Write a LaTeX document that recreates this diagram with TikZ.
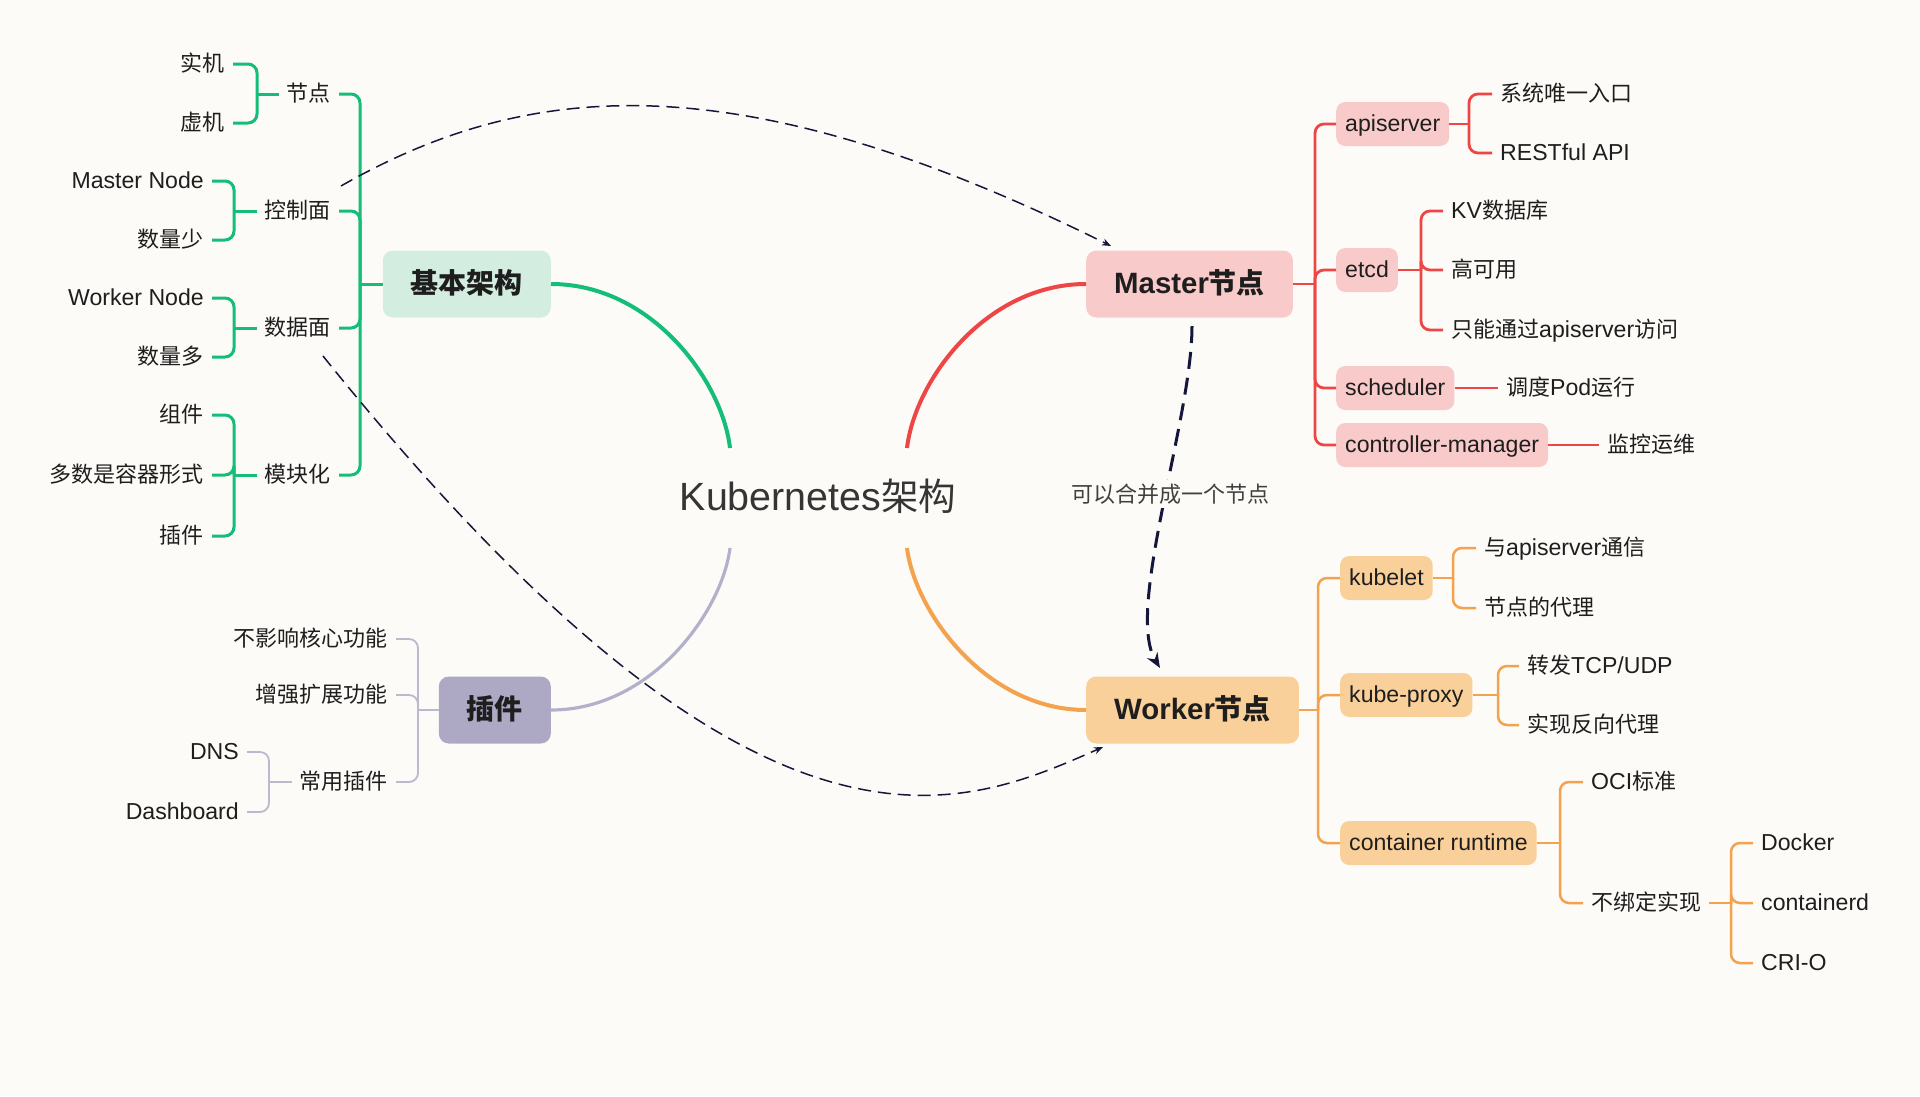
\documentclass[tikz,border=0pt]{standalone}
\usepackage{fontspec}
\setmainfont{Noto Sans CJK SC}
\newfontfamily\latfont{Liberation Sans}[Scale=1.05]
\newcommand{\La}[1]{{\latfont #1}}
\usetikzlibrary{arrows.meta}
\definecolor{bgc}{HTML}{FCFBF7}
\definecolor{gline}{HTML}{14BE78}
\definecolor{gfill}{HTML}{D3EEE1}
\definecolor{rline}{HTML}{EE4545}
\definecolor{rfill}{HTML}{F9CACA}
\definecolor{oline}{HTML}{F3A34D}
\definecolor{ofill}{HTML}{FAD09A}
\definecolor{pline}{HTML}{B3B0CC}
\definecolor{pbr}{HTML}{BCB9CF}
\definecolor{pfill}{HTML}{ADA9C4}
\definecolor{navy}{HTML}{15173A}
\definecolor{txt}{HTML}{1E1E1E}
\begin{document}
\begin{tikzpicture}[x=1pt,y=-1pt,
  leaf/.style={inner xsep=8pt, inner ysep=0pt, text height=19pt, text depth=4pt,
    font=\fontsize{22}{26}\selectfont, text=txt},
  mainbox/.style={rounded corners=10pt, minimum height=67pt, inner xsep=28pt,
    text height=24pt, text depth=5pt, font=\fontsize{28}{32}\selectfont\bfseries, text=txt},
  subbox/.style={rounded corners=9pt, minimum height=44pt, inner xsep=9pt,
    text height=19pt, text depth=4pt, font=\fontsize{22}{26}\selectfont, text=txt},
  gbr/.style={draw=gline, line width=3pt, rounded corners=9pt},
  rbr/.style={draw=rline, line width=2.8pt, rounded corners=9pt},
  obr/.style={draw=oline, line width=2.5pt, rounded corners=9pt},
  pbrs/.style={draw=pbr, line width=1.8pt, rounded corners=9pt},
  rel/.style={draw=navy, line width=1.5pt, dash pattern=on 13pt off 7pt,
    -{Stealth[length=9pt,width=7pt]}},
  relbig/.style={draw=navy, line width=3pt, dash pattern=on 17pt off 9pt,
    -{Stealth[length=15pt,width=12pt]}}
]
\fill[bgc] (0,0) rectangle (1920,1096);
\useasboundingbox (0,0) rectangle (1920,1096);

% ---------- center ----------
\node[text=txt!90!white, font=\fontsize{37.5}{42}\selectfont, inner sep=0pt] (k) at (818,496) {\La{Kubernetes}架构};
\coordinate (kNW) at (730,448);
\coordinate (kNE) at (907,448);
\coordinate (kSW) at (730,548);
\coordinate (kSE) at (907,548);

% ---------- green: 基本架构 ----------
\node[mainbox, fill=gfill, anchor=east] (jb) at (551,284) {基本架构};
\node[leaf, anchor=east] (n1) at (339,94) {节点};
\node[leaf, anchor=east] (n2) at (339,211) {控制面};
\node[leaf, anchor=east] (n3) at (339,328) {数据面};
\node[leaf, anchor=east] (n4) at (339,475) {模块化};
\node[leaf, anchor=east] (n11) at (233,64) {实机};
\node[leaf, anchor=east] (n12) at (233,123) {虚机};
\node[leaf, anchor=east] (n21) at (212,181) {\La{Master Node}};
\node[leaf, anchor=east] (n22) at (212,240) {数量少};
\node[leaf, anchor=east] (n31) at (212,298) {\La{Worker Node}};
\node[leaf, anchor=east] (n32) at (212,357) {数量多};
\node[leaf, anchor=east] (n41) at (212,415) {组件};
\node[leaf, anchor=east] (n42) at (212,475) {多数是容器形式};
\node[leaf, anchor=east] (n43) at (212,536) {插件};
\coordinate (gj) at (360,284);
\coordinate (g1) at (257,94);
\coordinate (g2) at (234,211);
\coordinate (g3) at (234,328);
\coordinate (g4) at (234,475);
\draw[gbr] (jb.west) -- (gj);
\foreach \c in {n1,n2,n3,n4} \draw[gbr] (gj) |- (\c.east);
\draw[gbr] (n1.west) -- (g1);
\foreach \c in {n11,n12} \draw[gbr] (g1) |- (\c.east);
\draw[gbr] (n2.west) -- (g2);
\foreach \c in {n21,n22} \draw[gbr] (g2) |- (\c.east);
\draw[gbr] (n3.west) -- (g3);
\foreach \c in {n31,n32} \draw[gbr] (g3) |- (\c.east);
\draw[gbr] (n4.west) -- (g4);
\foreach \c in {n41,n42,n43} \draw[gbr] (g4) |- (\c.east);

% ---------- red: Master节点 ----------
\node[mainbox, fill=rfill, anchor=west] (ms) at (1086,284) {\La{Master}节点};
\node[subbox, fill=rfill, anchor=west] (api) at (1336,124) {\La{apiserver}};
\node[subbox, fill=rfill, anchor=west] (etcd) at (1336,270) {\La{etcd}};
\node[subbox, fill=rfill, anchor=west] (sch) at (1336,388) {\La{scheduler}};
\node[subbox, fill=rfill, anchor=west] (cm) at (1336,445) {\La{controller-manager}};
\node[leaf, anchor=west] (a1) at (1492,94) {系统唯一入口};
\node[leaf, anchor=west] (a2) at (1492,153) {\La{RESTful API}};
\node[leaf, anchor=west] (e1) at (1443,211) {\La{KV}数据库};
\node[leaf, anchor=west] (e2) at (1443,270) {高可用};
\node[leaf, anchor=west] (e3) at (1443,330) {只能通过\La{apiserver}访问};
\node[leaf, anchor=west] (s1) at (1498,388) {调度\La{Pod}运行};
\node[leaf, anchor=west] (c1) at (1599,445) {监控运维};
\coordinate (rj) at (1315,284);
\coordinate (aj) at (1469,124);
\coordinate (ej) at (1421,270);
\draw[rbr] (ms.east) -- (rj);
\foreach \c in {api,etcd,sch,cm} \draw[rbr] (rj) |- (\c.west);
\draw[rbr] (api.east) -- (aj);
\foreach \c in {a1,a2} \draw[rbr] (aj) |- (\c.west);
\draw[rbr] (etcd.east) -- (ej);
\foreach \c in {e1,e2,e3} \draw[rbr] (ej) |- (\c.west);
\draw[rbr] (sch.east) -- (s1.west);
\draw[rbr] (cm.east) -- (c1.west);

% ---------- orange: Worker节点 ----------
\node[mainbox, fill=ofill, anchor=west] (wk) at (1086,710) {\La{Worker}节点};
\node[subbox, fill=ofill, anchor=west] (kl) at (1340,578) {\La{kubelet}};
\node[subbox, fill=ofill, anchor=west] (kp) at (1340,695) {\La{kube-proxy}};
\node[subbox, fill=ofill, anchor=west] (cr) at (1340,843) {\La{container runtime}};
\node[leaf, anchor=west] (k1) at (1476,548) {与\La{apiserver}通信};
\node[leaf, anchor=west] (k2) at (1476,608) {节点的代理};
\node[leaf, anchor=west] (p1) at (1519,666) {转发\La{TCP/UDP}};
\node[leaf, anchor=west] (p2) at (1519,725) {实现反向代理};
\node[leaf, anchor=west] (r1) at (1583,782) {\La{OCI}标准};
\node[leaf, anchor=west] (r2) at (1583,903) {不绑定实现};
\node[leaf, anchor=west] (d1) at (1753,843) {\La{Docker}};
\node[leaf, anchor=west] (d2) at (1753,903) {\La{containerd}};
\node[leaf, anchor=west] (d3) at (1753,963) {\La{CRI-O}};
\coordinate (oj) at (1318,710);
\coordinate (klj) at (1453,578);
\coordinate (kpj) at (1498,695);
\coordinate (crj) at (1560,843);
\coordinate (r2j) at (1731,903);
\draw[obr] (wk.east) -- (oj);
\foreach \c in {kl,kp,cr} \draw[obr] (oj) |- (\c.west);
\draw[obr] (kl.east) -- (klj);
\foreach \c in {k1,k2} \draw[obr] (klj) |- (\c.west);
\draw[obr] (kp.east) -- (kpj);
\foreach \c in {p1,p2} \draw[obr] (kpj) |- (\c.west);
\draw[obr] (cr.east) -- (crj);
\foreach \c in {r1,r2} \draw[obr] (crj) |- (\c.west);
\draw[obr] (r2.east) -- (r2j);
\foreach \c in {d1,d2,d3} \draw[obr] (r2j) |- (\c.west);

% ---------- purple: 插件 ----------
\node[mainbox, fill=pfill, anchor=east] (pl) at (551,710) {插件};
\node[leaf, anchor=east] (q1) at (396,639) {不影响核心功能};
\node[leaf, anchor=east] (q2) at (396,695) {增强扩展功能};
\node[leaf, anchor=east] (q3) at (396,782) {常用插件};
\node[leaf, anchor=east] (u1) at (247,752) {\La{DNS}};
\node[leaf, anchor=east] (u2) at (247,812) {\La{Dashboard}};
\coordinate (pj) at (418,710);
\coordinate (q3j) at (269,782);
\draw[pbrs] (pl.west) -- (pj);
\foreach \c in {q1,q2,q3} \draw[pbrs] (pj) |- (\c.east);
\draw[pbrs] (q3.west) -- (q3j);
\foreach \c in {u1,u2} \draw[pbrs] (q3j) |- (\c.east);

% ---------- main curves ----------
\draw[gline, line width=4pt] (jb.east) .. controls (651,284) and (722,380) .. (kNW);
\draw[rline, line width=4pt] (ms.west) .. controls (986,284) and (915,380) .. (kNE);
\draw[pline, line width=3.2pt] (pl.east) .. controls (651,710) and (722,612) .. (kSW);
\draw[oline, line width=4pt] (wk.west) .. controls (986,710) and (915,612) .. (kSE);

% ---------- relations ----------
\coordinate (r1s) at (341,186);
\coordinate (r1e) at (1111,246);
\coordinate (r2s) at (323,356);
\coordinate (r2e) at (1103,747);
\coordinate (r3s) at (1192,326);
\coordinate (r3e) at (1160,668);
\draw[rel] (r1s) .. controls (530,78) and (740,62) .. (r1e);
\draw[rel] (r2s) .. controls (760,900) and (960,810) .. (r2e);
\draw[relbig] (r3s) .. controls (1192,420) and (1125,610) .. (r3e);
\node[fill=bgc, inner xsep=2pt, inner ysep=4pt, text=txt!85!white,
  font=\fontsize{22}{26}\selectfont] (lb) at (1170,494) {可以合并成一个节点};
\end{tikzpicture}
\end{document}
